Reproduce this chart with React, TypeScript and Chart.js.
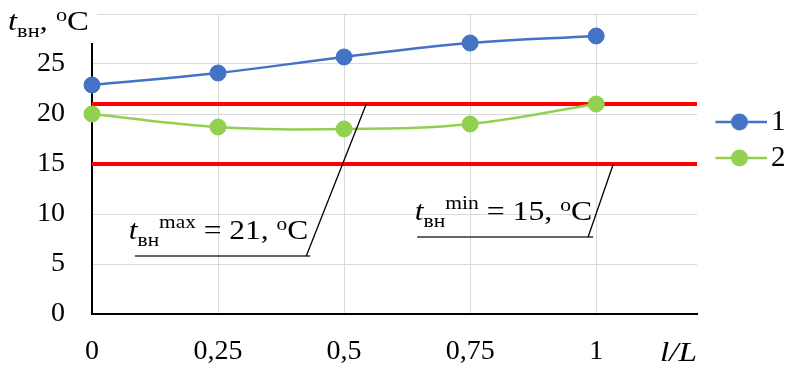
import React, { useEffect, useRef } from 'react';
import { Chart, registerables } from 'chart.js';

Chart.register(...registerables);

// ---- data ----
const positions = [0, 0.25, 0.5, 0.75, 1];
const xTickLabels = ['0', '0,25', '0,5', '0,75', '1'];
const yTickLabels = ['0', '5', '10', '15', '20', '25'];
const series1 = [22.9, 24.1, 25.7, 27.1, 27.8];
const series2 = [20.0, 18.7, 18.5, 19.0, 21.0];
const seriesNames = ['1', '2'];
const tMax = 21;
const tMin = 15;
const xMax = 1.2;
const yMax = 30;
const yStep = 5;

// ---- styles / layout ----
const BLUE = '#4472C4';
const GREEN = '#92D050';
const RED = '#FF0000';
const GRID = '#D9D9D9';
const FONT = '"Liberation Serif", "Times New Roman", serif';

// annotation callouts (anchored in data units)
const annotations = [
  { sup: 'max', value: tMax, textStart: 0.073, textEnd: 0.429, baseline: 7.5, lineY: 5.8, lineStart: 0.085, lineEnd: 0.433, leaderFrom: 0.425, leaderTo: 0.544 },
  { sup: 'min', value: tMin, textStart: 0.64, textEnd: 0.992, baseline: 9.4, lineY: 7.7, lineStart: 0.645, lineEnd: 0.994, leaderFrom: 0.984, leaderTo: 1.034 },
];

type Part = { text: string; size: number; italic?: boolean; dy?: number };
const fontOf = (p: Part) => `${p.italic ? 'italic ' : ''}${p.size}px ${FONT}`;

function drawParts(ctx: CanvasRenderingContext2D, parts: Part[], x: number, y: number, targetWidth?: number) {
  let natural = 0;
  for (const p of parts) {
    ctx.font = fontOf(p);
    natural += ctx.measureText(p.text).width;
  }
  const sx = targetWidth ? targetWidth / natural : 1;
  ctx.save();
  ctx.translate(x, y);
  ctx.scale(sx, 1);
  ctx.fillStyle = '#000';
  ctx.textAlign = 'left';
  ctx.textBaseline = 'alphabetic';
  let cx = 0;
  for (const p of parts) {
    ctx.font = fontOf(p);
    ctx.fillText(p.text, cx, p.dy || 0);
    cx += ctx.measureText(p.text).width;
  }
  ctx.restore();
}

function legendImage(color: string) {
  const c = document.createElement('canvas');
  c.width = 54;
  c.height = 18;
  const g = c.getContext('2d')!;
  g.strokeStyle = color;
  g.lineWidth = 2.5;
  g.beginPath();
  g.moveTo(0, 9);
  g.lineTo(54, 9);
  g.stroke();
  g.fillStyle = color;
  g.beginPath();
  g.arc(27, 9, 8.5, 0, Math.PI * 2);
  g.fill();
  return c;
}

export default function App() {
  const ref = useRef<HTMLCanvasElement>(null);

  useEffect(() => {
    const canvas = ref.current!;
    const legendImgs = [legendImage(BLUE), legendImage(GREEN)];

    const overlay = {
      id: 'overlay',
      afterLayout(chart: any) {
        const lg = chart.legend;
        if (lg) {
          lg.left = chart.chartArea.right + 18.5;
          lg.right = chart.width;
          lg.width = lg.right - lg.left;
          lg.top = 100.5;
        }
      },
      afterDraw(chart: any) {
        const ctx: CanvasRenderingContext2D = chart.ctx;
        const xs = chart.scales.x;
        const ys = chart.scales.y;
        const area = chart.chartArea;

        // callouts
        for (const a of annotations) {
          ctx.save();
          ctx.strokeStyle = '#333';
          ctx.lineWidth = 1.5;
          ctx.beginPath();
          ctx.moveTo(xs.getPixelForValue(a.lineStart), ys.getPixelForValue(a.lineY));
          ctx.lineTo(xs.getPixelForValue(a.lineEnd), ys.getPixelForValue(a.lineY));
          ctx.stroke();
          ctx.strokeStyle = '#000';
          ctx.lineWidth = 1.3;
          ctx.beginPath();
          ctx.moveTo(xs.getPixelForValue(a.leaderFrom), ys.getPixelForValue(a.lineY));
          ctx.lineTo(xs.getPixelForValue(a.leaderTo), ys.getPixelForValue(a.value));
          ctx.stroke();
          ctx.restore();
          const x0 = xs.getPixelForValue(a.textStart);
          const x1 = xs.getPixelForValue(a.textEnd);
          drawParts(ctx, [
            { text: 't', size: 28, italic: true },
            { text: 'вн', size: 19, dy: 7 },
            { text: a.sup, size: 19, dy: -11 },
            { text: ` = ${a.value}, `, size: 28 },
            { text: 'o', size: 19, dy: -9 },
            { text: 'C', size: 28 },
          ], x0, ys.getPixelForValue(a.baseline), x1 - x0);
        }

        // y-axis title with white backing
        ctx.save();
        ctx.fillStyle = '#fff';
        ctx.fillRect(0, 0, area.left + 5, area.top + 29);
        ctx.restore();
        drawParts(ctx, [
          { text: 't', size: 28, italic: true },
          { text: 'вн', size: 19, dy: 7 },
          { text: ', ', size: 28 },
          { text: 'o', size: 19, dy: -9 },
          { text: 'C', size: 28 },
        ], 8, 30, 81);

        // x-axis title at end
        drawParts(ctx, [{ text: 'l/L', size: 28, italic: true }], area.right - 37, area.bottom + 47, 37);
      },
    };

    const chart = new Chart(canvas, {
      type: 'line',
      data: {
        datasets: [
          {
            label: seriesNames[0],
            data: positions.map((x, i) => ({ x, y: series1[i] })),
            borderColor: BLUE,
            backgroundColor: BLUE,
            borderWidth: 2.5,
            pointRadius: 8,
            pointBorderWidth: 1,
            pointBackgroundColor: BLUE,
            pointBorderColor: BLUE,
            tension: 0.4,
            clip: false,
          },
          {
            label: seriesNames[1],
            data: positions.map((x, i) => ({ x, y: series2[i] })),
            borderColor: GREEN,
            backgroundColor: GREEN,
            borderWidth: 2.5,
            pointRadius: 8,
            pointBorderWidth: 1,
            pointBackgroundColor: GREEN,
            pointBorderColor: GREEN,
            tension: 0.4,
            clip: false,
          },
          {
            label: 'max',
            data: [{ x: 0, y: tMax }, { x: xMax, y: tMax }],
            borderColor: RED,
            borderWidth: 4,
            pointRadius: 0,
            tension: 0,
          },
          {
            label: 'min',
            data: [{ x: 0, y: tMin }, { x: xMax, y: tMin }],
            borderColor: RED,
            borderWidth: 4,
            pointRadius: 0,
            tension: 0,
          },
        ],
      },
      options: {
        animation: false,
        responsive: true,
        maintainAspectRatio: false,
        layout: { padding: { top: 14, left: 0, right: 13, bottom: 0 } },
        plugins: {
          tooltip: { enabled: false },
          legend: {
            position: 'right',
            align: 'start',
            labels: {
              usePointStyle: true,
              pointStyleWidth: 34,
              padding: 7,
              color: '#000',
              font: { family: FONT, size: 29 },
              generateLabels(chart: any) {
                const items = Chart.defaults.plugins.legend.labels.generateLabels(chart);
                return items
                  .filter((it: any) => it.datasetIndex < 2)
                  .map((it: any) => ({ ...it, pointStyle: legendImgs[it.datasetIndex] }));
              },
            },
          },
        },
        scales: {
          x: {
            type: 'linear',
            min: 0,
            max: xMax,
            afterBuildTicks(scale: any) {
              scale.ticks = positions.map((v) => ({ value: v }));
            },
            afterFit(scale: any) {
              scale.height = 58;
              scale.paddingLeft = 0;
              scale.paddingRight = 0;
            },
            grid: { color: GRID, lineWidth: 1, drawTicks: false },
            border: { color: '#000', width: 2 },
            ticks: {
              padding: 21,
              maxRotation: 0,
              autoSkip: false,
              color: '#000',
              font: { family: FONT, size: 28 },
              callback: (value: any) => xTickLabels[positions.indexOf(Number(value))] ?? '',
            },
          },
          y: {
            min: 0,
            max: yMax,
            afterFit(scale: any) {
              scale.width = 92;
              scale.paddingTop = 0;
              scale.paddingBottom = 0;
            },
            grid: { color: GRID, lineWidth: 1, drawTicks: false },
            border: { color: '#000', width: 2 },
            ticks: {
              stepSize: yStep,
              padding: 27,
              color: '#000',
              font: { family: FONT, size: 28 },
              callback: (_v: any, index: number) => yTickLabels[index] ?? '',
            },
          },
        },
      },
      plugins: [overlay],
    } as any);

    return () => chart.destroy();
  }, []);

  return (
    <div style={{ position: 'fixed', left: 0, top: 0, width: 790, height: 372, background: '#fff' }}>
      <canvas ref={ref} />
    </div>
  );
}
